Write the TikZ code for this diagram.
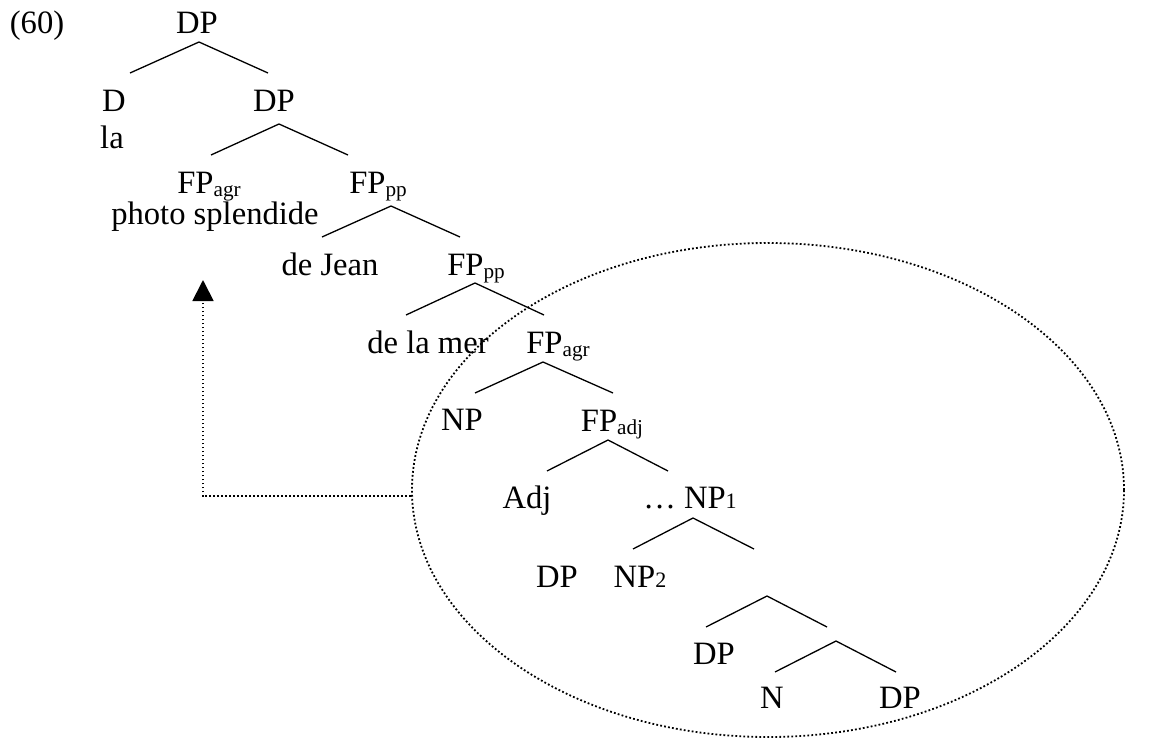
\documentclass[tikz,border=0pt]{standalone}
\usepackage{fontspec}
\setmainfont{Liberation Serif}
\usetikzlibrary{shapes.geometric,arrows.meta}
\newcommand\sbs[1]{\raisebox{-0.1em}{\fontsize{10.6pt}{12pt}\selectfont #1}}
\newcommand\smn[1]{{\fontsize{11pt}{12pt}\selectfont #1}}
\begin{document}
\begin{tikzpicture}[x=0.5pt,y=-0.5pt,
  lbl/.style={anchor=base,inner sep=0pt,font=\fontsize{16.3pt}{19pt}\selectfont},
  branch/.style={line width=0.65pt},
  dots/.style={line width=0.9pt,dash pattern=on 0.9pt off 1.1pt}]
\useasboundingbox (0,0) rectangle (1151,739);
% labels
\node[lbl] (ex)    at (37,33)   {(60)};
\node[lbl] (dp1)   at (197,33)  {DP};
\node[lbl] (d)     at (114,111) {D};
\node[lbl] (la)    at (112,148) {la};
\node[lbl] (dp2)   at (274,111) {DP};
\node[lbl] (fpa1)  at (209,193) {FP\sbs{agr}};
\node[lbl] (photo) at (215,224) {photo splendide};
\node[lbl] (fpp1)  at (378,193) {FP\sbs{pp}};
\node[lbl] (jean)  at (330,275) {de Jean};
\node[lbl] (fpp2)  at (476,275) {FP\sbs{pp}};
\node[lbl] (mer)   at (428,353) {de la mer};
\node[lbl] (fpa2)  at (558,353) {FP\sbs{agr}};
\node[lbl] (np)    at (462,430) {NP};
\node[lbl] (fpadj) at (612,431) {FP\sbs{adj}};
\node[lbl] (adj)   at (527,508) {Adj};
\node[lbl] (np1)   at (690,508) {… NP\smn{1}};
\node[lbl] (dp3)   at (557,587) {DP};
\node[lbl] (np2)   at (640,587) {NP\smn{2}};
\node[lbl] (dp4)   at (714,664) {DP};
\node[lbl] (n)     at (772,708) {N};
\node[lbl] (dp5)   at (900,708) {DP};
% branches
\foreach \i/\ax/\ay/\lx/\rx/\ly in {
  1/199/42/130/268/73,
  2/279/124/211/348/155,
  3/391/206/322/460/237,
  4/475/283/406/544/315,
  5/543/362/475/613/393,
  6/608/440/547/668/471,
  7/693/518/633/754/549,
  8/767/596/706/827/627,
  9/836/641/775/896/672}{
  \coordinate (a\i) at (\ax,\ay);
  \coordinate (l\i) at (\lx,\ly);
  \coordinate (r\i) at (\rx,\ly);
  \draw[branch] (l\i) -- (a\i) -- (r\i);
}
% dotted ellipse
\node[dots,draw,ellipse,inner sep=0pt,minimum width=356pt,minimum height=247pt] (circ) at (768,490) {};
% movement arrow
\coordinate (tip) at (203,280);
\draw[dots,-{Triangle[width=10.5pt,length=10.5pt]}] (circ.181) -| (tip);
\end{tikzpicture}
\end{document}
